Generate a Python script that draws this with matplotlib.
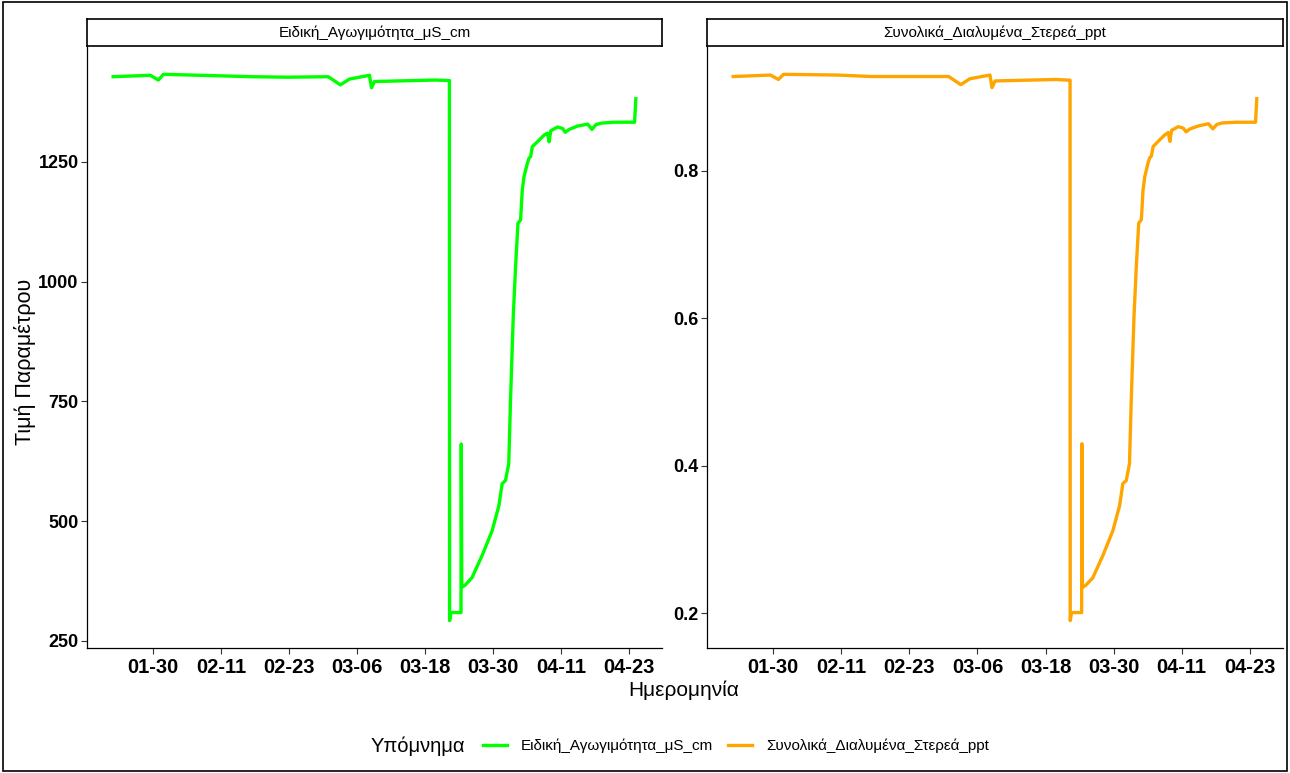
import pandas as pd
import matplotlib.pyplot as plt
import matplotlib.dates as mdates
from matplotlib.lines import Line2D
from matplotlib.patches import Rectangle

plt.rcParams['font.family'] = ['Liberation Sans', 'DejaVu Sans']

# Timestamps (2024, leap year)
times = pd.to_datetime([
    '2024-01-22 23:00', '2024-01-29 12:30', '2024-01-30 22:30', '2024-01-31 20:00',
    '2024-02-10 10:00', '2024-02-16 06:30', '2024-02-22 20:00', '2024-02-29 22:20',
    '2024-03-03 01:30', '2024-03-04 16:00', '2024-03-08 05:00', '2024-03-08 13:30',
    '2024-03-09 02:30', '2024-03-19 18:00', '2024-03-22 07:40', '2024-03-22 08:20',
    '2024-03-22 14:00', '2024-03-24 08:40', '2024-03-24 09:50', '2024-03-24 12:00',
    '2024-03-25 02:00', '2024-03-26 07:30', '2024-03-28 02:00', '2024-03-29 20:40',
    '2024-03-31 01:10', '2024-03-31 15:00', '2024-04-01 05:15', '2024-04-01 19:00',
    '2024-04-02 02:25', '2024-04-02 14:00', '2024-04-02 23:45', '2024-04-03 10:05',
    '2024-04-03 21:10', '2024-04-04 04:20', '2024-04-04 11:30', '2024-04-05 01:40',
    '2024-04-05 08:50', '2024-04-05 15:35', '2024-04-05 23:00', '2024-04-06 20:10',
    '2024-04-08 00:45', '2024-04-08 14:50', '2024-04-08 22:05', '2024-04-09 04:50',
    '2024-04-10 09:20', '2024-04-11 06:45', '2024-04-11 18:15', '2024-04-12 11:15',
    '2024-04-13 22:35', '2024-04-15 17:15', '2024-04-16 11:30', '2024-04-17 04:30',
    '2024-04-18 02:00', '2024-04-20 11:00', '2024-04-24 00:00', '2024-04-24 05:30',
])

# Specific conductance, uS/cm
spc = [1428, 1431, 1421, 1433, 1430, 1428, 1427, 1428,
       1411, 1423, 1431, 1405, 1418, 1421, 1420, 292,
       309, 309, 661, 362, 366, 382, 428, 480,
       532, 578, 585, 620, 752, 926, 1030, 1122,
       1129, 1191, 1219, 1247, 1258, 1261, 1282, 1292,
       1306, 1310, 1292, 1315, 1323, 1320, 1312, 1318,
       1325, 1329, 1318, 1328, 1331, 1333, 1333, 1382]

# Total dissolved solids, ppt
tds = [0.928, 0.930, 0.924, 0.931, 0.930, 0.928, 0.928, 0.928,
       0.917, 0.925, 0.930, 0.913, 0.922, 0.924, 0.923, 0.190,
       0.201, 0.201, 0.430, 0.235, 0.238, 0.248, 0.278, 0.312,
       0.346, 0.376, 0.380, 0.403, 0.489, 0.602, 0.670, 0.729,
       0.734, 0.774, 0.792, 0.811, 0.818, 0.820, 0.833, 0.840,
       0.849, 0.852, 0.840, 0.855, 0.860, 0.858, 0.853, 0.857,
       0.861, 0.864, 0.857, 0.863, 0.865, 0.866, 0.866, 0.898]

names = ['Ειδική_Αγωγιμότητα_μS_cm', 'Συνολικά_Διαλυμένα_Στερεά_ppt']
colors = ['#00FF00', '#FFA500']
yticks = [[250, 500, 750, 1000, 1250], [0.2, 0.4, 0.6, 0.8]]
xticks = pd.date_range('2024-01-30', '2024-04-23', freq='12D')

W, H = 1290, 773
fig = plt.figure(figsize=(W / 100, H / 100), dpi=100)


def box(l, t, r, b):
    return [l / W, 1 - b / H, (r - l) / W, (b - t) / H]


panels = [(87, 662), (707, 1283)]
for i, (vals, (l, r)) in enumerate(zip([spc, tds], panels)):
    ax = fig.add_axes(box(l, 47, r, 648))
    ax.plot(times, vals, color=colors[i], linewidth=2.4, solid_joinstyle='round')
    ax.set_yticks(yticks[i])
    ax.set_xticks(xticks)
    ax.xaxis.set_major_formatter(mdates.DateFormatter('%m-%d'))
    for s in ['top', 'right']:
        ax.spines[s].set_visible(False)
    for s in ['left', 'bottom']:
        ax.spines[s].set_linewidth(0.9)
    ax.tick_params(direction='out', length=4, width=0.8, colors='#333333', labelcolor='black')
    ax.tick_params(axis='x', labelsize=14.5, pad=3)
    ax.tick_params(axis='y', labelsize=13, pad=2)
    for lab in ax.get_xticklabels() + ax.get_yticklabels():
        lab.set_fontweight('bold')

    # facet strip
    st = fig.add_axes(box(l, 19, r, 46))
    st.set_xticks([])
    st.set_yticks([])
    for s in st.spines.values():
        s.set_linewidth(1.2)
    st.text(0.5, 0.5, names[i], ha='center', va='center', fontsize=11, transform=st.transAxes)

fig.text(684 / W, 1 - 690 / H, 'Ημερομηνία', ha='center', va='center', fontsize=15)
fig.text(25 / W, 1 - 362 / H, 'Τιμή Παραμέτρου', ha='center', va='center', rotation=90, fontsize=15.5)

# legend
fig.text(465 / W, 1 - 746 / H, 'Υπόμνημα', ha='right', va='center', fontsize=14.5)
handles = [Line2D([], [], color=c, linewidth=2.4) for c in colors]
fig.legend(handles, names, loc='center', bbox_to_anchor=(736 / W, 1 - 746 / H), ncol=2,
           frameon=False, fontsize=11, handlelength=1.55, handletextpad=0.9, columnspacing=1.0)

# outer border
fig.patches.append(Rectangle((0.002, 0.003), 0.996, 0.994, transform=fig.transFigure,
                             fill=False, edgecolor='black', linewidth=1.2))

fig.savefig('out.png', dpi=100)
